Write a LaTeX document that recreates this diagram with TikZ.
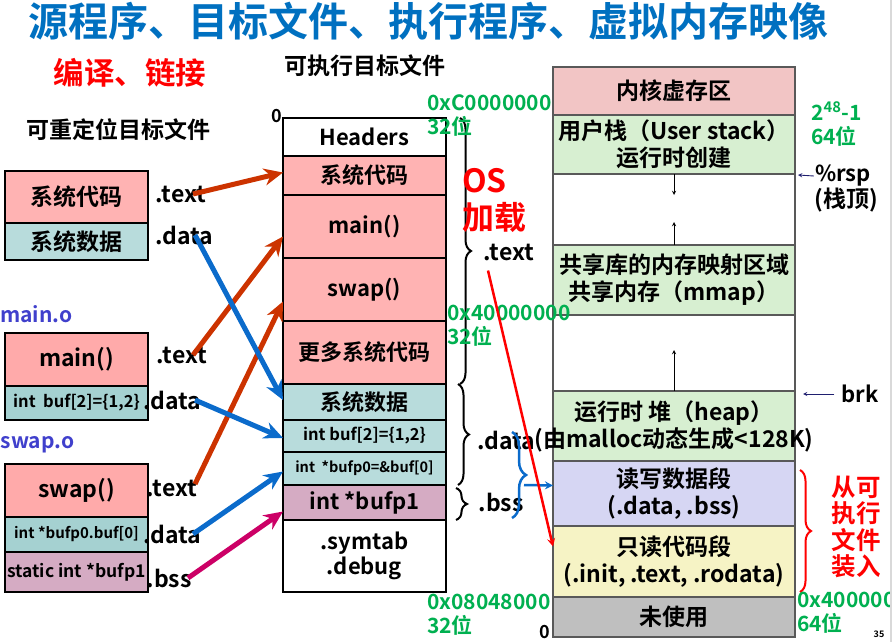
\documentclass[tikz,border=0pt]{standalone}
\usepackage{fontspec}
\setmainfont{Noto Sans CJK SC}[UprightFont={* Bold}]
\usetikzlibrary{arrows,arrows.meta,positioning,decorations.pathreplacing}
\definecolor{ttlblue}{HTML}{0070C0}
\definecolor{codepink}{HTML}{FFB3B3}
\definecolor{funcpink}{HTML}{FFAAAA}
\definecolor{datateal}{HTML}{B8DCDC}
\definecolor{darkteal}{HTML}{A5D1D1}
\definecolor{bssmauve}{HTML}{D5ABC3}
\definecolor{kernpink}{HTML}{F2C5C5}
\definecolor{segreen}{HTML}{D7EFD1}
\definecolor{rwlav}{HTML}{D6D6F3}
\definecolor{roylw}{HTML}{F6F3C5}
\definecolor{unused}{HTML}{BFBFBF}
\definecolor{vmgray}{HTML}{595959}
\definecolor{addrgreen}{HTML}{00B050}
\definecolor{objblue}{HTML}{4040CC}
\definecolor{txtarrow}{HTML}{CC3300}
\definecolor{datarrow}{HTML}{0B6BCB}
\definecolor{bssarrow}{HTML}{CC0066}
\definecolor{ptrnavy}{HTML}{1F1F6F}
\tikzstyle{objseg} = [rectangle, draw=black, line width=2.4pt, minimum width=143pt, inner sep=0pt, outer sep=0pt, align=center, font=\fontsize{23}{27}\selectfont]
\tikzstyle{exeseg} = [rectangle, draw=black, line width=2.4pt, minimum width=163pt, inner sep=0pt, outer sep=0pt, align=center, font=\fontsize{22}{25}\selectfont]
\tikzstyle{vmseg} = [rectangle, draw=vmgray, line width=1.4pt, minimum width=242pt, inner sep=0pt, outer sep=0pt, align=center, font=\fontsize{23}{27}\selectfont]
\tikzstyle{seclbl} = [inner sep=0pt, font=\fontsize{23}{26}\selectfont]
\tikzstyle{addr} = [inner sep=0pt, anchor=west, align=left, text=addrgreen, font=\fontsize{21}{24}\selectfont]
\tikzstyle{linkarrow} = [-{Stealth[length=19pt,width=17pt]}, line width=5pt]
\tikzstyle{vmarrow} = [->, >=stealth, line width=0.9pt]
\tikzstyle{secbrace} = [decorate, decoration={brace, amplitude=11pt}, line width=2pt]
\begin{document}
\begin{tikzpicture}[x=1pt, y=-1pt]
  \useasboundingbox (0,0) rectangle (896,642);
  \clip (0,0) rectangle (896,642);
  % titles
  \node[anchor=west, inner sep=0pt, text=ttlblue, font=\fontsize{40}{42}\selectfont](title) at (28,21){源程序、目标文件、执行程序、虚拟内存映像};
  \node[inner sep=0pt, text=red, font=\fontsize{30.5}{32}\selectfont](link) at (130,73){编译、链接};
  \node[inner sep=0pt, font=\fontsize{23}{26}\selectfont](relo) at (118,130){可重定位目标文件};
  \node[inner sep=0pt, font=\fontsize{23}{26}\selectfont](exe) at (365,66){可执行目标文件};
  % relocatable object files
  \node[objseg, fill=codepink, minimum height=52pt, anchor=north west](lsys) at (5,171){系统代码};
  \node[objseg, fill=datateal, minimum height=37pt, below=0pt of lsys](lsdat){系统数据};
  \node[anchor=west, inner sep=0pt, text=objblue, font=\fontsize{21}{24}\selectfont](maino) at (0,314){main.o};
  \node[objseg, fill=funcpink, minimum height=53pt, anchor=north west](lmain) at (5,333){main()};
  \node[objseg, fill=darkteal, minimum height=34pt, below=0pt of lmain, font=\fontsize{16.5}{20}\selectfont](lbuf){\makebox[0pt]{int\ \ buf[2]=\{1,2\}}};
  \node[anchor=west, inner sep=0pt, text=objblue, font=\fontsize{21}{24}\selectfont](swapo) at (0.5,445){swap.o};
  \node[objseg, fill=funcpink, minimum height=53pt, anchor=north west](lswap) at (5,464){swap()};
  \node[objseg, fill=darkteal, minimum height=35pt, below=0pt of lswap, font=\fontsize{15}{18}\selectfont](lbp0){int *bufp0.buf[0]};
  \node[objseg, fill=bssmauve, minimum height=40pt, below=0pt of lbp0, font=\fontsize{17.5}{20}\selectfont](lbp1){\makebox[0pt]{static int *bufp1}};
  \node[seclbl](lsysT) at (181,194){.text};
  \node[seclbl](lsysD) at (184,235){.data};
  \node[seclbl](lmainT) at (182,355){.text};
  \node[seclbl](lmainD) at (172,400){.data};
  \node[seclbl](lswapT) at (172,488){.text};
  \node[seclbl](lswapD) at (172,534){.data};
  \node[seclbl](lswapB) at (169,578){.bss};
  % executable object file
  \node[exeseg, fill=white, minimum height=38pt, anchor=north west](hdr) at (283,118){Headers};
  \node[exeseg, fill=codepink, minimum height=39pt, below=0pt of hdr](xsys){系统代码};
  \node[exeseg, fill=codepink, minimum height=63pt, below=0pt of xsys](xmain){main()};
  \node[exeseg, fill=codepink, minimum height=63pt, below=0pt of xmain](xswap){swap()};
  \node[exeseg, fill=codepink, minimum height=63pt, below=0pt of xswap](xmore){更多系统代码};
  \node[exeseg, fill=datateal, minimum height=36pt, below=0pt of xmore](xsdat){系统数据};
  \node[exeseg, fill=datateal, minimum height=32pt, below=0pt of xsdat, font=\fontsize{16.5}{20}\selectfont](xbuf){int buf[2]=\{1,2\}};
  \node[exeseg, fill=datateal, minimum height=33pt, below=0pt of xbuf, font=\fontsize{14.5}{17}\selectfont](xbp0){int\ \ *bufp0=\&buf[0]};
  \node[exeseg, fill=bssmauve, minimum height=35pt, below=0pt of xbp0](xbp1){int *bufp1};
  \node[exeseg, fill=white, minimum height=72pt, below=0pt of xbp1](xsym){.symtab\\.debug};
  \node[inner sep=0pt, font=\fontsize{18}{20}\selectfont](zero) at (277,116){0};
  \draw[secbrace]([xshift=14pt]hdr.north east) -- ([xshift=14pt]xmore.south east);
  \draw[secbrace]([xshift=12pt]xsdat.north east) -- ([xshift=12pt]xbp0.south east);
  \draw[secbrace]([xshift=10pt,yshift=-3pt]xbp1.north east) -- ([xshift=10pt]xbp1.south east);
  \node[seclbl](txtsec) at (509,252){.text};
  \node[seclbl](datsec) at (506,440){.data};
  \node[seclbl](bsssec) at (501,502){.bss};
  \node[inner sep=0pt, anchor=west, align=left, text=red, font=\fontsize{32}{37}\selectfont](osload) at (462,200){OS\\加载};
  % virtual memory image
  \node[vmseg, fill=kernpink, minimum height=48pt, anchor=north west](kern) at (553,67){内核虚存区};
  \node[vmseg, fill=segreen, minimum height=59pt, below=0pt of kern](ustk){用户栈（User stack）\\运行时创建};
  \node[vmseg, fill=white, minimum height=71pt, below=0pt of ustk](gapa){};
  \node[vmseg, fill=segreen, minimum height=70pt, below=0pt of gapa](shlib){共享库的内存映射区域\\共享内存（mmap）};
  \node[vmseg, fill=white, minimum height=76pt, below=0pt of shlib](gapb){};
  \node[vmseg, fill=segreen, minimum height=70pt, below=0pt of gapb](heap){运行时 堆（heap）\\\makebox[0pt]{(由malloc动态生成<128K)}};
  \node[vmseg, fill=rwlav, minimum height=65pt, below=0pt of heap](rwseg){读写数据段\\(.data, .bss)};
  \node[vmseg, fill=roylw, minimum height=71pt, below=0pt of rwseg](roseg){只读代码段\\(.init, .text, .rodata)};
  \node[vmseg, fill=unused, minimum height=40pt, below=0pt of roseg](unseg){未使用};
  \draw[vmarrow](ustk.south) -- ++(0,21);
  \draw[vmarrow](shlib.north) -- ++(0,-23);
  \draw[vmarrow](heap.north) -- ++(0,-41);
  \node[inner sep=0pt, font=\fontsize{22}{24}\selectfont](rsp) at (843,176){\%rsp};
  \node[inner sep=0pt, font=\fontsize{23}{24}\selectfont](stktop) at (846,200){(栈顶)};
  \node[inner sep=0pt, font=\fontsize{22}{24}\selectfont](brk) at (860,394){brk};
  \draw[vmarrow, ptrnavy]([xshift=-1pt]rsp.west) -- ([xshift=3pt,yshift=-1pt]ustk.south east);
  \draw[vmarrow, ptrnavy]([xshift=-7pt]brk.west) -- ([xshift=8pt,yshift=-3pt]heap.north east);
  \draw[secbrace, red]([xshift=5pt,yshift=-9pt]rwseg.north east) -- ([xshift=5pt,yshift=5pt]roseg.south east);
  \node[inner sep=0pt, align=center, text=red, font=\fontsize{24.5}{26.3}\selectfont](fromexe) at (856,527){从可\\执行\\文件\\装入};
  % addresses
  \node[addr](addrC) at (427,116){0xC0000000\\32位};
  \node[addr](addrF) at (447,326){0x40000000\\32位};
  \node[addr](addrE) at (427,615){0x08048000\\32位};
  \node[addr](addrT) at (811,124){2\textsuperscript{48}-1\\64位};
  \node[addr](addrB) at (797,613){0x400000\\64位};
  \node[inner sep=0pt, font=\fontsize{18}{20}\selectfont](vzero) at (545,632){0};
  % linking arrows
  \draw[linkarrow, txtarrow]([xshift=12pt]lsysT.center) -- ([yshift=3pt]xsys.west);
  \draw[linkarrow, txtarrow]([xshift=11pt]lmainT.center) -- ([yshift=-10pt]xmain.west);
  \draw[linkarrow, txtarrow]([xshift=23pt,yshift=4pt]lswapT.center) -- ([yshift=-12pt]xswap.west);
  \draw[linkarrow, datarrow]([xshift=11pt]lsysD.center) -- ([yshift=2pt]xsdat.west);
  \draw[linkarrow, datarrow]([xshift=23pt]lmainD.center) -- ([yshift=-2pt]xbuf.west);
  \draw[linkarrow, datarrow]([xshift=21pt]lswapD.center) -- ([yshift=-3pt]xbp0.west);
  \draw[linkarrow, bssarrow]([xshift=19pt]lswapB.center) -- ([yshift=-9pt]xbp1.west);
  % loading
  \draw[secbrace, datarrow, line width=2.5pt, decoration={amplitude=14pt}](512,432) -- (512,518);
  \draw[->, >=stealth, datarrow, line width=2.5pt](524,485) -- ([yshift=8pt]rwseg.west);
  \draw[->, >=stealth, red, line width=2.5pt]([xshift=-21pt,yshift=-10pt]txtsec.south) -- ([yshift=15pt]roseg.west);
  % slide edge
  \fill[white](892,0) rectangle (896,642);
  \draw[line width=2pt, black!15](891,0) -- (891,642);
  \node[inner sep=0pt, font=\fontsize{9}{10}\selectfont](pgno) at (879,634){35};
\end{tikzpicture}
\end{document}
